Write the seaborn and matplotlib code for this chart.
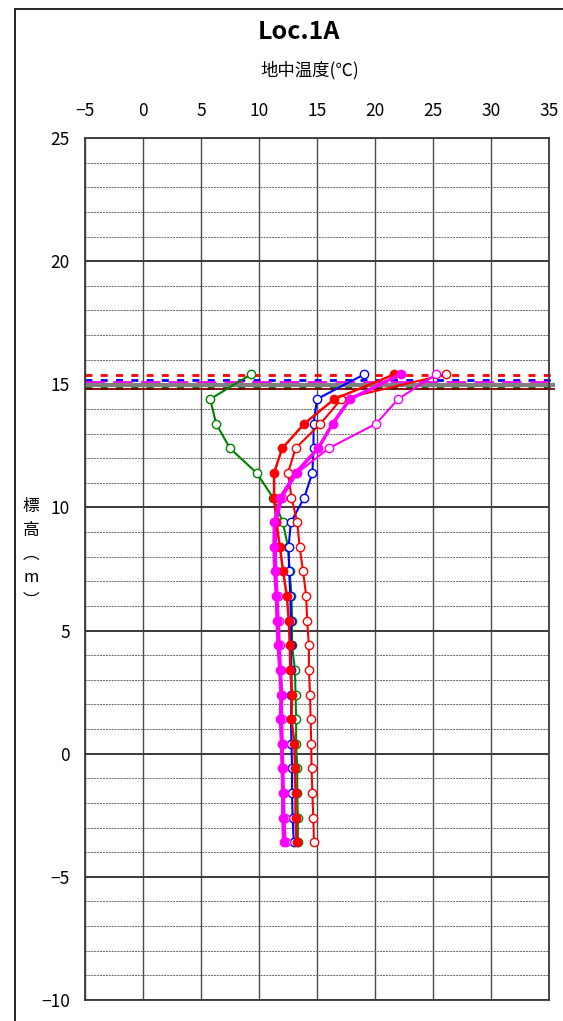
import numpy as np
import pandas as pd
import matplotlib
matplotlib.use('Agg')
import matplotlib.pyplot as plt
import seaborn as sns
from matplotlib.patches import Rectangle

sns.set_style('ticks')
plt.rcParams['font.family'] = ['Noto Sans CJK JP', 'DejaVu Sans']

# depth (elevation, m) of each sensor
depth = [15.4, 14.4, 13.4, 12.4, 11.4, 10.4, 9.4, 8.4, 7.4, 6.4,
         5.4, 4.4, 3.4, 2.4, 1.4, 0.4, -0.6, -1.6, -2.6, -3.6]

green_open = [9.3, 5.8, 6.3, 7.5, 9.8, 11.2, 12.05, 12.5, 12.65, 12.8,
              12.85, 12.85, 13.1, 13.15, 13.2, 13.2, 13.3, 13.3, 13.35, 13.35]
blue_open = [19.06, 15.0, 14.7, 14.7, 14.6, 13.9, 12.75, 12.55, 12.6, 12.7,
             12.75, 12.75, 12.8, 12.8, 12.75, 12.8, 12.85, 12.85, 12.9, 13.0]
red_open = [26.1, 17.1, 15.3, 13.15, 12.5, 12.8, 13.3, 13.5, 13.8, 14.07,
            14.15, 14.3, 14.3, 14.4, 14.45, 14.5, 14.53, 14.6, 14.68, 14.74]
red_fill = [21.65, 16.5, 13.9, 12.0, 11.3, 11.3, 11.5, 11.8, 12.08, 12.4,
            12.57, 12.65, 12.7, 12.85, 12.8, 13.06, 13.1, 13.15, 13.15, 13.24]
mag_open = [25.26, 22.0, 20.1, 16.0, 13.3, 12.0, 11.5, 11.45, 11.5, 11.6,
            11.7, 11.8, 11.9, 12.0, 12.0, 12.05, 12.1, 12.15, 12.2, 12.3]
mag_fill = [22.2, 17.85, 16.35, 15.1, 13.15, 11.85, 11.33, 11.3, 11.36, 11.5,
            11.56, 11.65, 11.8, 11.9, 11.85, 11.94, 12.0, 12.05, 12.05, 12.14]

# water / ground levels drawn as horizontal lines
level_vals = [15.39, 15.17, 15.11, 14.96, 14.86, 14.82]

x_ticks = [-5, 0, 5, 10, 15, 20, 25, 30, 35]
y_ticks = [25, 20, 15, 10, 5, 0, -5, -10]

fig = plt.figure(figsize=(5.63, 10.21), dpi=100)
ax = fig.add_axes([85 / 563, 1 - 1000 / 1021, 464 / 563, 862 / 1021])

# outer frame of the sheet
fig.patches.append(Rectangle((15 / 563, -0.1), 1.2, 1.1 - 9.5 / 1021,
                             transform=fig.transFigure, fill=False,
                             edgecolor='black', lw=1.2, clip_on=False))

ax.set_xlim(-5, 35)
ax.set_ylim(-10, 25)

# grid
for xv in x_ticks:
    ax.axvline(xv, color='#4a4a4a', lw=1.0, zorder=0)
for yv in range(-10, 26):
    if yv % 5 == 0:
        ax.axhline(yv, color='#3a3a3a', lw=1.4, zorder=0)
    else:
        ax.axhline(yv, color='#666666', lw=0.7, ls=(0, (2, 1)), zorder=0)

# level lines
level_styles = [
    dict(color='#ff0000', lw=2.0, ls=(0, (2.5, 3))),
    dict(color='#0000ff', lw=2.0, ls=(0, (2.5, 3))),
    dict(color='#ff00ff', lw=2.0, ls=(0, (7, 3))),
    dict(color='#808080', lw=3.0, ls='-'),
    dict(color='#006400', lw=2.0, ls=(0, (2.5, 3))),
    dict(color='#7a0000', lw=1.3, ls='-'),
]
for lv, st in zip(level_vals, level_styles):
    ax.hlines(lv, -5, 35.5, clip_on=False, zorder=2, **st)

series = [
    (green_open, '#008000', 'white', 1.5),
    (blue_open, '#0000ff', 'white', 1.5),
    (red_open, '#ff0000', 'white', 1.5),
    (mag_open, '#ff00ff', 'white', 1.5),
    (red_fill, '#ff0000', '#ff0000', 1.8),
    (mag_fill, '#ff00ff', '#ff00ff', 2.5),
]
for vals, col, face, lw in series:
    df = pd.DataFrame({'temp': vals, 'depth': depth})
    sns.lineplot(data=df, x='temp', y='depth', sort=False, estimator=None,
                 orient='y', ax=ax, color=col, lw=lw, marker='o',
                 markersize=6, markerfacecolor=face, markeredgecolor=col,
                 markeredgewidth=1.0, zorder=3)

ax.set_xticks(x_ticks)
ax.set_yticks(y_ticks)
ax.xaxis.tick_top()
ax.tick_params(axis='both', length=0, labelsize=12.5, labelcolor='black')
ax.tick_params(axis='x', pad=13)
ax.tick_params(axis='y', pad=11)
ax.set_xlabel('')
ax.set_ylabel('')
for sp in ax.spines.values():
    sp.set_visible(True)
    sp.set_color('#3a3a3a')
    sp.set_linewidth(1.3)

fig.text(299 / 563, 1 - 32 / 1021, 'Loc.1A', ha='center', va='center',
         fontsize=18, fontweight='bold', color='black')
fig.text(310 / 563, 1 - 70 / 1021, '地中温度(℃)', ha='center', va='center',
         fontsize=12.5, color='black')
fig.text(31 / 563, 1 - 554 / 1021, '標\n高\n︵\nm\n︶', ha='center', va='center',
         fontsize=12, linespacing=1.5, color='black')

plt.savefig('out.png', dpi=100)
